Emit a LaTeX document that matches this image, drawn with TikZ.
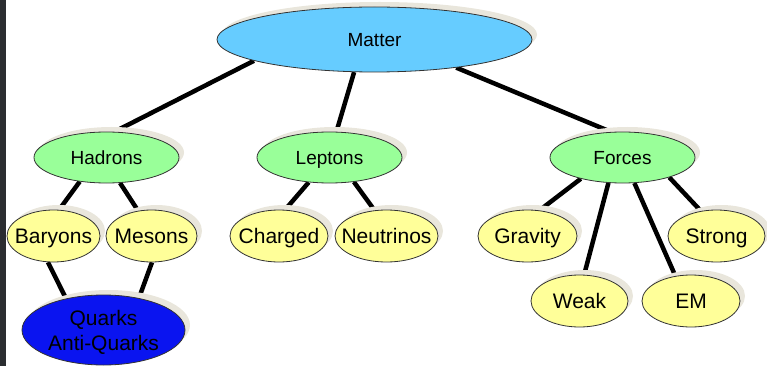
\documentclass[tikz,border=0pt]{standalone}
\usepackage{fontspec}
\setmainfont{Liberation Sans}
\usetikzlibrary{shapes.geometric,shadows}
\pgfdeclarelayer{background}
\pgfsetlayers{background,main}
\definecolor{matterc}{HTML}{66CCFF}
\definecolor{greenc}{HTML}{99FF99}
\definecolor{leafc}{HTML}{FFFF99}
\definecolor{quarkc}{HTML}{0A14F0}
\definecolor{shadowc}{HTML}{E9E6DC}
\definecolor{stripc}{HTML}{2B2D31}
\begin{document}
\begin{tikzpicture}[x=1pt,y=-1pt,
  el/.style={ellipse, draw=black!80, line width=0.8pt, inner xsep=-12pt, inner ysep=-5pt, align=center, text=black,
    text depth=0pt,
    drop shadow={shadow xshift=5pt, shadow yshift=5pt, fill=shadowc, opacity=1}},
  topnode/.style={el, fill=greenc, minimum width=145pt, minimum height=51pt, text height=13.6pt, font=\fontsize{19}{22}\selectfont},
  leaf/.style={el, fill=leafc, minimum height=52pt, text height=15pt, font=\fontsize{21}{25}\selectfont},
  link/.style={line width=4.5pt, black}]
\useasboundingbox (0,0) rectangle (767,366);
\fill[stripc] (0,0) rectangle (6,366);

\node[topnode, fill=matterc, minimum width=315pt, minimum height=65pt] (matter) at (374.5,39.5) {Matter};
\node[topnode] (hadrons) at (106.5,157.5) {Hadrons};
\node[topnode] (leptons) at (329.5,157.5) {Leptons};
\node[topnode] (forces) at (622.5,157.5) {Forces};

\node[leaf, minimum width=93pt] (baryons) at (53.5,236) {Baryons};
\node[leaf, minimum width=91pt] (mesons) at (151.5,236) {Mesons};
\node[leaf, fill=quarkc, minimum width=163pt, minimum height=70pt, text height=40pt] (quarks) at (103.5,330) {Quarks\\Anti-Quarks};
\node[leaf, minimum width=98pt] (charged) at (279,236) {Charged};
\node[leaf, minimum width=103pt] (neutrinos) at (386.5,236) {Neutrinos};
\node[leaf, minimum width=99pt] (gravity) at (527.5,236) {Gravity};
\node[leaf, minimum width=97pt] (strong) at (716.5,236) {Strong};
\node[leaf, minimum width=97pt] (weak) at (579.5,301) {Weak};
\node[leaf, minimum width=98pt] (em) at (691,301) {EM};

\begin{pgfonlayer}{background}
\draw[link] (matter.190) -- (hadrons.73);
\draw[link] (matter.238) -- (leptons.75);
\draw[link] (matter.341) -- (forces.114);
\draw[link] (hadrons.222) -- (baryons.78);
\draw[link] (hadrons.298) -- (mesons.118);
\draw[link] (baryons.258) -- (quarks.140);
\draw[link] (mesons.271) -- (quarks.42);
\draw[link] (leptons.230) -- (charged.77);
\draw[link] (leptons.315) -- (neutrinos.115);
\draw[link] (forces.207) -- (gravity.65);
\draw[link] (forces.241) -- (weak.80);
\draw[link] (forces.295) -- (em.122);
\draw[link] (forces.337) -- (strong.122);
\end{pgfonlayer}
\end{tikzpicture}
\end{document}
